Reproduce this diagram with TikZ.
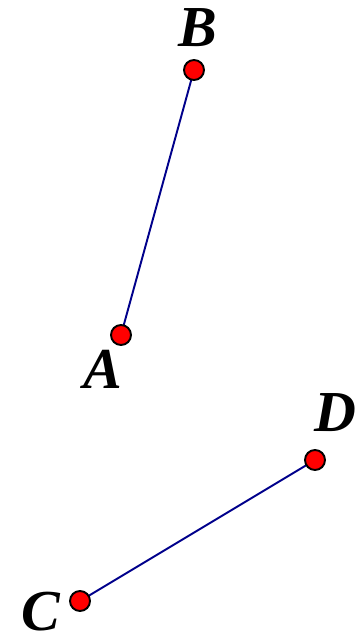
\documentclass[tikz,border=0pt]{standalone}
\usepackage{fontspec}
\setmainfont{Liberation Serif}
\usepackage{tikz}
\usetikzlibrary{positioning}

\begin{document}
\begin{tikzpicture}[
  x=0.02cm,y=-0.02cm,
  pt/.style={draw=black,fill=red,circle,line width=1.1pt,minimum size=0.4cm,inner sep=0pt},
  seg/.style={draw=Navy,line width=1.1pt},
  lbl/.style={anchor=base,inner sep=0pt,text depth=0pt,font=\fontsize{33}{33}\selectfont\bfseries\itshape},
]
  \definecolor{Navy}{RGB}{0,0,139}
  \useasboundingbox (0,0) rectangle (356,639);
  \coordinate (a) at (121,335);
  \coordinate (b) at (194,70);
  \coordinate (c) at (80,601);
  \coordinate (d) at (315,460);
  \draw[seg] (a) -- (b);
  \draw[seg] (c) -- (d);
  \node[pt] (A) at (a) {};
  \node[pt] (B) at (b) {};
  \node[pt] (C) at (c) {};
  \node[pt] (D) at (d) {};
  \node[lbl] (labA) at (103,388) {A};
  \node[lbl] (labB) at (198,46) {B};
  \node[lbl] (labC) at (41,630) {C};
  \node[lbl] (labD) at (335,431) {D};
\end{tikzpicture}
\end{document}
